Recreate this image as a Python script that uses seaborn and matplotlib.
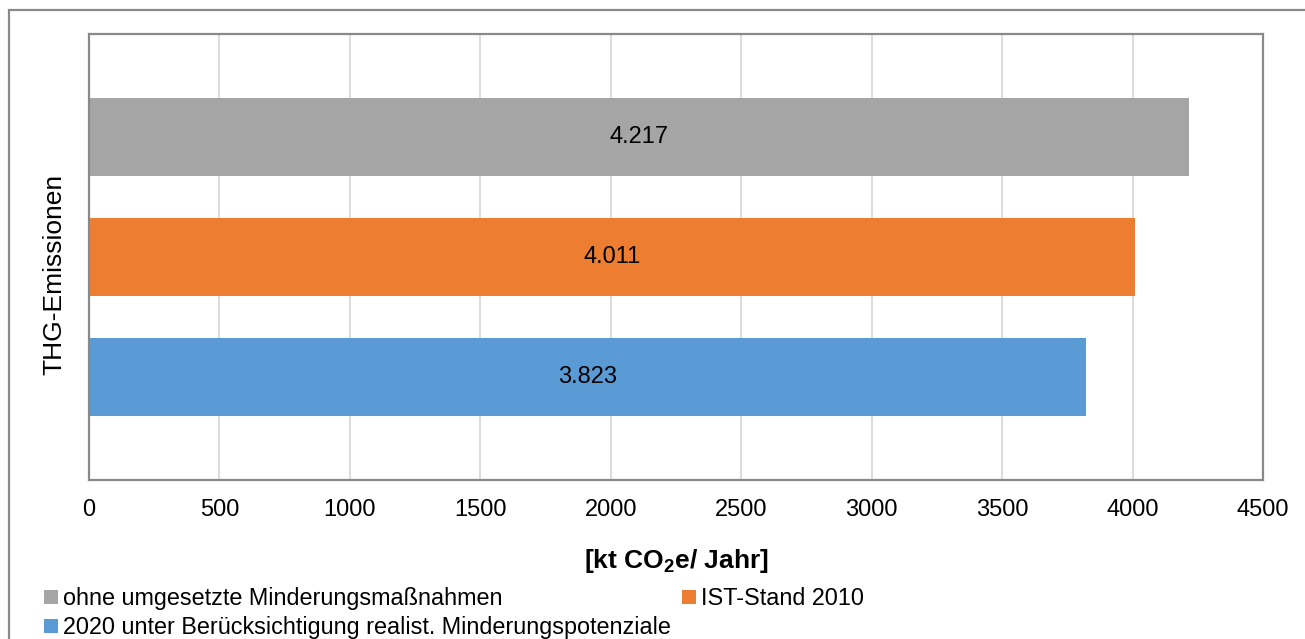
import pandas as pd
import seaborn as sns
import matplotlib.pyplot as plt
from matplotlib.lines import Line2D
from matplotlib.patches import Rectangle

# data
series = ['ohne umgesetzte Minderungsmaßnahmen', 'IST-Stand 2010',
          '2020 unter Berücksichtigung realist. Minderungspotenziale']
values = [4217, 4011, 3823]
colors = ['#A5A5A5', '#ED7D31', '#5B9BD5']
x_ticks = [0, 500, 1000, 1500, 2000, 2500, 3000, 3500, 4000, 4500]

sns.set_style('white')
plt.rcParams['font.family'] = ['Liberation Sans', 'DejaVu Sans']
plt.rcParams['mathtext.fontset'] = 'custom'
plt.rcParams['mathtext.bf'] = 'Liberation Sans:bold'
plt.rcParams['mathtext.rm'] = 'Liberation Sans'

df = pd.DataFrame({'series': series, 'value': values})

fig = plt.figure(figsize=(13.05, 6.39), dpi=100)
ax = fig.add_axes([89 / 1305, 1 - 480 / 639, 1174 / 1305, 446 / 639])

sns.barplot(data=df, x='value', y='series', hue='series', palette=colors,
            orient='h', width=0.645, legend=False, saturation=1,
            linewidth=0, ax=ax)

# data labels, German thousands separator
for cont, v in zip(ax.containers, values):
    ax.bar_label(cont, labels=[f'{v:,}'.replace(',', '.')], label_type='center',
                 fontsize=17, color='black')

ax.set_xlim(0, 4500)
ax.set_ylim(2.86, -0.86)
ax.set_xticks(x_ticks)
ax.set_yticks([])
ax.tick_params(axis='x', length=0, pad=14, labelsize=17, labelcolor='black')
ax.grid(axis='x', color='#D9D9D9', linewidth=1.3)
ax.set_axisbelow(True)
for s in ax.spines.values():
    s.set_visible(True)
    s.set_color('#898989')
    s.set_linewidth(1.6)

ax.set_ylabel('THG-Emissionen', fontsize=19, color='black')
ax.yaxis.set_label_coords(-0.019, 0.46)
ax.set_xlabel(r'[kt CO$_\mathbf{2}$e/ Jahr]', fontsize=19, fontweight='bold', color='black')
ax.xaxis.set_label_coords(0.5, -0.150)

# legend (gray + blue in first column, orange in second)
order = [0, 2, 1]
handles = [Line2D([], [], marker='s', linestyle='none', markersize=9.5,
                  markerfacecolor=colors[i], markeredgewidth=0) for i in order]
fig.legend(handles, [series[i] for i in order], loc='upper left',
           bbox_to_anchor=(43 / 1305, 1 - 587 / 639), ncol=2, frameon=False,
           fontsize=16.8, labelcolor='black', handlelength=0.7,
           handletextpad=0.15, borderpad=0, borderaxespad=0,
           labelspacing=0.27, columnspacing=0.45)

# outer chart border
fig.patches.append(Rectangle((9 / 1305, -0.5), 2, 1.5 - 10 / 639,
                             transform=fig.transFigure, fill=False,
                             edgecolor='#898989', linewidth=1.6))

fig.savefig('out.png', dpi=100)
